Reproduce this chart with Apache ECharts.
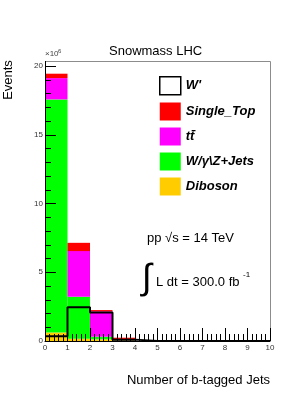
<!DOCTYPE html>
<html>
<head>
<meta charset="utf-8">
<script src="https://cdn.jsdelivr.net/npm/echarts@6/dist/echarts.min.js"></script>
<style>html,body{margin:0;padding:0;background:#fff}#c{width:307px;height:398px}</style>
</head>
<body>
<div id="c"></div>
<script>
// Bins: number of b-tagged jets (0..9), values in units of 1e6 events
var categories = ['0','1','2','3','4','5','6','7','8','9'];
var diboson   = [0.62, 0.17, 0.12, 0.04, 0, 0, 0, 0, 0, 0];
var wjets     = [16.95, 3.05, 0.19, 0.02, 0, 0, 0, 0, 0, 0];
var ttbar     = [1.55, 3.32, 1.84, 0.06, 0, 0, 0, 0, 0, 0];
var singleTop = [0.32, 0.60, 0.10, 0.12, 0, 0, 0, 0, 0, 0];
var wprime    = [0.35, 2.45, 2.08, 0.10, 0, 0, 0, 0, 0, 0];
var seriesNames = ["W'", 'Single_Top', 't\u0074\u0304', 'W/\u03b3\\Z+Jets', 'Diboson'];

var FONT = '"Liberation Sans", Arial, Helvetica, sans-serif';
var wLine = wprime.map(function (v, i) { return [i, v]; });
wLine.push([categories.length, wprime[wprime.length - 1]]);

var chart = echarts.init(document.getElementById('c'), null, {renderer: 'canvas'});
chart.setOption({
  animation: false,
  backgroundColor: '#fff',
  title: {text: 'Snowmass LHC', left: 109, top: 45, padding: 0,
    textStyle: {fontFamily: FONT, fontSize: 13, fontWeight: 'normal', color: '#000'}},
  grid: {left: 45, right: 37, top: 66, bottom: 57, show: false},
  legend: {
    orient: 'vertical', left: 154, top: 71, itemWidth: 21, itemHeight: 18, itemGap: 7,
    icon: 'rect', selectedMode: false,
    textStyle: {fontFamily: FONT, fontSize: 13, fontWeight: 'bold', fontStyle: 'italic', color: '#000', padding: [0,0,0,0]},
    data: [
      {name: seriesNames[0], icon: 'rect', itemStyle: {color: '#fff', borderColor: '#000', borderWidth: 1.5}},
      {name: seriesNames[1]}, {name: seriesNames[2]}, {name: seriesNames[3]}, {name: seriesNames[4]}
    ]
  },
  xAxis: [
    {type: 'category', data: categories, boundaryGap: true, show: false},
    {type: 'value', min: 0, max: 10, interval: 1, position: 'bottom', zlevel: 1, z: 5,
      axisLine: {show: true, onZero: false, lineStyle: {color: '#000', width: 1}},
      axisTick: {show: true, inside: true, length: 13, lineStyle: {color: '#000', width: 1}},
      minorTick: {show: true, splitNumber: 5, length: 7, lineStyle: {color: '#000', width: 1}},
      axisLabel: {fontFamily: FONT, fontSize: 8, color: '#333', margin: 3},
      splitLine: {show: false}}
  ],
  yAxis: [
    {type: 'value', min: 0, max: 20, interval: 5, zlevel: 1, z: 5, position: 'left',
      axisLine: {show: true, onZero: false, lineStyle: {color: '#000', width: 1}},
      axisTick: {show: true, inside: true, length: 11, lineStyle: {color: '#000', width: 1}},
      minorTick: {show: true, splitNumber: 5, length: 6, lineStyle: {color: '#000', width: 1}},
      axisLabel: {fontFamily: FONT, fontSize: 8, color: '#333', margin: 2},
      splitLine: {show: false}}
  ],
  series: [
    {name: seriesNames[4], type: 'bar', stack: 's', data: diboson, barCategoryGap: '0%', itemStyle: {color: '#ffcc00'}, xAxisIndex: 0, yAxisIndex: 0},
    {name: seriesNames[3], type: 'bar', stack: 's', data: wjets, barCategoryGap: '0%', itemStyle: {color: '#00ff00'}, xAxisIndex: 0, yAxisIndex: 0},
    {name: seriesNames[2], type: 'bar', stack: 's', data: ttbar, barCategoryGap: '0%', itemStyle: {color: '#ff00ff'}, xAxisIndex: 0, yAxisIndex: 0},
    {name: seriesNames[1], type: 'bar', stack: 's', data: singleTop, barCategoryGap: '0%', itemStyle: {color: '#ff0000'}, xAxisIndex: 0, yAxisIndex: 0},
    {name: seriesNames[0], type: 'line', step: 'end', data: wLine, xAxisIndex: 1, yAxisIndex: 0, z: 4,
      symbol: 'none', lineStyle: {color: '#000', width: 2}, itemStyle: {color: '#fff', borderColor: '#000'}}
  ],
  graphic: [
    {type: 'polyline', z: 1, shape: {points: [[45, 61.5], [270.5, 61.5], [270.5, 341]]}, style: {stroke: '#8c8c8c', lineWidth: 1, fill: null}},
    {type: 'line', z: 1, shape: {x1: 45.5, y1: 61, x2: 45.5, y2: 66}, style: {stroke: '#000', lineWidth: 1}},
    {type: 'text', x: 45, y: 50, style: {text: '\u00d710', fontFamily: FONT, fontSize: 8, fill: '#444', textVerticalAlign: 'top'}},
    {type: 'text', x: 58, y: 48, style: {text: '6', fontFamily: FONT, fontSize: 6, fill: '#444', textVerticalAlign: 'top'}},
    {type: 'text', x: 8, y: 80, rotation: Math.PI / 2, style: {text: 'Events', fontFamily: FONT, fontSize: 13, fill: '#000', textAlign: 'center', textVerticalAlign: 'middle'}},
    {type: 'text', x: 270, y: 380, style: {text: 'Number of b-tagged Jets', fontFamily: FONT, fontSize: 13, fill: '#000', textAlign: 'right', textVerticalAlign: 'middle'}},
    {type: 'text', x: 147, y: 238, style: {text: 'pp \u221as = 14 TeV', fontFamily: FONT, fontSize: 13, fill: '#000', textAlign: 'left', textVerticalAlign: 'middle'}},
    {type: 'text', x: 142, y: 279, style: {text: '\u222b', fontFamily: FONT, fontSize: 36, fill: '#000', textAlign: 'left', textVerticalAlign: 'middle'}},
    {type: 'text', x: 156, y: 282, style: {text: 'L dt = 300.0 fb', fontFamily: FONT, fontSize: 13, fill: '#000', textAlign: 'left', textVerticalAlign: 'middle'}},
    {type: 'text', x: 243, y: 275, style: {text: '-1', fontFamily: FONT, fontSize: 8, fill: '#000', textAlign: 'left', textVerticalAlign: 'middle'}}
  ]
});
</script>
</body>
</html>
